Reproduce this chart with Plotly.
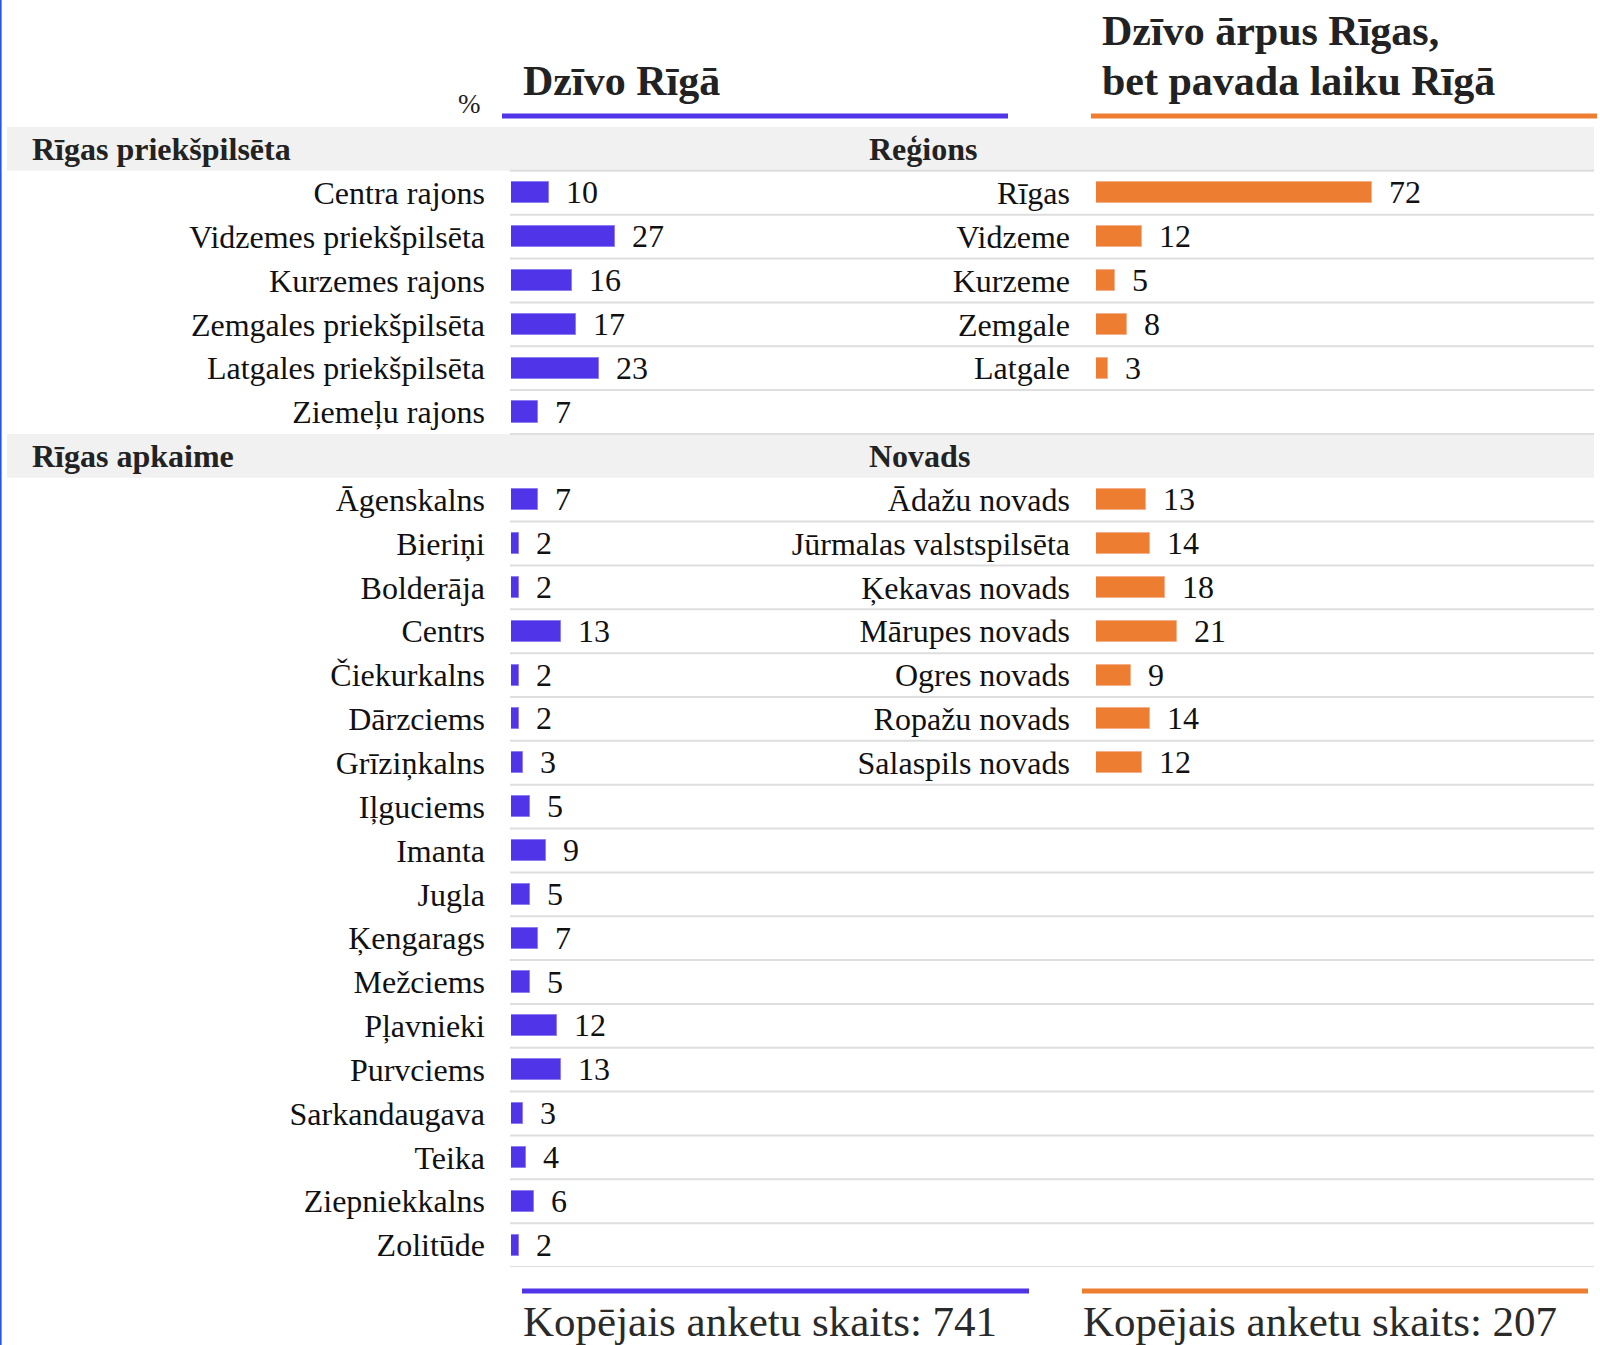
import plotly.graph_objects as go

# ---------------- data ----------------
left_header_1 = "Rīgas priekšpilsēta"
left_cats_1 = ["Centra rajons", "Vidzemes priekšpilsēta", "Kurzemes rajons",
               "Zemgales priekšpilsēta", "Latgales priekšpilsēta", "Ziemeļu rajons"]
left_vals_1 = [10, 27, 16, 17, 23, 7]

left_header_2 = "Rīgas apkaime"
left_cats_2 = ["Āgenskalns", "Bieriņi", "Bolderāja", "Centrs", "Čiekurkalns", "Dārzciems",
               "Grīziņkalns", "Iļguciems", "Imanta", "Jugla", "Ķengarags", "Mežciems",
               "Pļavnieki", "Purvciems", "Sarkandaugava", "Teika", "Ziepniekkalns", "Zolitūde"]
left_vals_2 = [7, 2, 2, 13, 2, 2, 3, 5, 9, 5, 7, 5, 12, 13, 3, 4, 6, 2]

right_header_1 = "Reģions"
right_cats_1 = ["Rīgas", "Vidzeme", "Kurzeme", "Zemgale", "Latgale"]
right_vals_1 = [72, 12, 5, 8, 3]

right_header_2 = "Novads"
right_cats_2 = ["Ādažu novads", "Jūrmalas valstspilsēta", "Ķekavas novads", "Mārupes novads",
                "Ogres novads", "Ropažu novads", "Salaspils novads"]
right_vals_2 = [13, 14, 18, 21, 9, 14, 12]

title_left = "Dzīvo Rīgā"
title_right_lines = ["Dzīvo ārpus Rīgas,", "bet pavada laiku Rīgā"]
unit_label = "%"
footer_left = "Kopējais anketu skaits: 741"
footer_right = "Kopējais anketu skaits: 207"

# ---------------- layout constants ----------------
W, H = 1600, 1345
TOP, BOTTOM = 127, 1267
PLOT_H = BOTTOM - TOP
PX_PER_UNIT = 3.84
LX0, LX1 = 511, 1000
RX0, RX1 = 1096, 1594
BLUE = "#5035E8"
ORANGE = "#ED7D31"
FONT = "Liberation Serif"
LBL = 32


def px(x):
    return x / W


def py(y):
    return 1 - (y - TOP) / PLOT_H


# row indices
h1 = 0
rows_l1 = list(range(1, 1 + len(left_cats_1)))
h2 = rows_l1[-1] + 1
rows_l2 = list(range(h2 + 1, h2 + 1 + len(left_cats_2)))
rows_r1 = list(range(1, 1 + len(right_cats_1)))
rows_r2 = list(range(h2 + 1, h2 + 1 + len(right_cats_2)))
n_rows = rows_l2[-1] + 1

fig = go.Figure()

fig.add_trace(go.Bar(
    y=rows_l1 + rows_l2, x=left_vals_1 + left_vals_2, orientation="h",
    width=0.48, marker=dict(color=BLUE, line=dict(color="#8E7DF0", width=1)),
    texttemplate="\u00a0\u2009%{x}", textposition="outside", constraintext="none",
    textfont=dict(family=FONT, size=LBL, color="#111"), cliponaxis=False,
    xaxis="x", yaxis="y", hoverinfo="skip", showlegend=False))

fig.add_trace(go.Bar(
    y=rows_r1 + rows_r2, x=right_vals_1 + right_vals_2, orientation="h",
    width=0.48, marker=dict(color=ORANGE, line=dict(color="#F4B08A", width=1)),
    texttemplate="\u00a0\u2009%{x}", textposition="outside", constraintext="none",
    textfont=dict(family=FONT, size=LBL, color="#111"), cliponaxis=False,
    xaxis="x2", yaxis="y2", hoverinfo="skip", showlegend=False))

shapes = []
# header bands
for r in (h1, h2):
    shapes.append(dict(type="rect", xref="paper", yref="y", x0=px(7), x1=px(1594),
                       y0=r - 0.5, y1=r + 0.5, fillcolor="#F1F1F1", line=dict(width=0),
                       layer="below"))
# separators
sep_rows = [0.5] + [r + 0.5 for r in rows_l1] + [r + 0.5 for r in rows_l2]
for s in sep_rows:
    shapes.append(dict(type="line", xref="paper", yref="y", x0=px(510), x1=px(1594),
                       y0=s, y1=s, line=dict(color="#DEDEDE", width=2), layer="below"))
# title / footer lines
shapes += [
    dict(type="line", xref="paper", yref="paper", x0=px(502), x1=px(1008),
         y0=py(116), y1=py(116), line=dict(color=BLUE, width=5)),
    dict(type="line", xref="paper", yref="paper", x0=px(1091), x1=px(1597),
         y0=py(116), y1=py(116), line=dict(color=ORANGE, width=5)),
    dict(type="line", xref="paper", yref="paper", x0=px(522), x1=px(1029),
         y0=py(1291), y1=py(1291), line=dict(color=BLUE, width=5)),
    dict(type="line", xref="paper", yref="paper", x0=px(1082), x1=px(1588),
         y0=py(1291), y1=py(1291), line=dict(color=ORANGE, width=5)),
    dict(type="rect", xref="paper", yref="paper", x0=0, x1=px(1.6),
         y0=py(H), y1=py(0), fillcolor="#2255EE", line=dict(width=0)),
]

annotations = []
for txt, r, x in [(left_header_1, h1, 30), (left_header_2, h2, 30),
                  (right_header_1, h1, 867), (right_header_2, h2, 867)]:
    annotations.append(dict(text=f"<b>{txt}</b>", xref="paper", yref="y", x=px(x), y=r,
                            xanchor="left", yanchor="middle", showarrow=False,
                            font=dict(family=FONT, size=LBL, color="#222")))
annotations += [
    dict(text=f"<b>{title_left}</b>", xref="paper", yref="paper", x=px(521), y=py(81),
         xanchor="left", yanchor="middle", showarrow=False,
         font=dict(family=FONT, size=42, color="#222")),
    dict(text=f"<b>{title_right_lines[0]}</b>", xref="paper", yref="paper", x=px(1100), y=py(31),
         xanchor="left", yanchor="middle", showarrow=False,
         font=dict(family=FONT, size=42, color="#222")),
    dict(text=f"<b>{title_right_lines[1]}</b>", xref="paper", yref="paper", x=px(1100), y=py(81),
         xanchor="left", yanchor="middle", showarrow=False,
         font=dict(family=FONT, size=42, color="#222")),
    dict(text=unit_label, xref="paper", yref="paper", x=px(456), y=py(104),
         xanchor="left", yanchor="middle", showarrow=False,
         font=dict(family=FONT, size=27, color="#222")),
    dict(text=footer_left, xref="paper", yref="paper", x=px(521), y=py(1321),
         xanchor="left", yanchor="middle", showarrow=False,
         font=dict(family=FONT, size=43, color="#2a2a2a")),
    dict(text=footer_right, xref="paper", yref="paper", x=px(1081), y=py(1321),
         xanchor="left", yanchor="middle", showarrow=False,
         font=dict(family=FONT, size=43, color="#2a2a2a")),
]

yr = [n_rows - 0.5, -0.5]
tickfont = dict(family=FONT, size=LBL, color="#111")

fig.update_layout(
    width=W, height=H,
    margin=dict(l=0, r=0, t=TOP, b=H - BOTTOM, pad=0),
    paper_bgcolor="white", plot_bgcolor="rgba(0,0,0,0)",
    font=dict(family=FONT),
    bargap=0,
    xaxis=dict(domain=[px(LX0), px(LX1)], range=[0, (LX1 - LX0) / PX_PER_UNIT],
               visible=False, fixedrange=True),
    xaxis2=dict(domain=[px(RX0), px(RX1)], range=[0, (RX1 - RX0) / PX_PER_UNIT],
                visible=False, fixedrange=True, anchor="y2"),
    yaxis=dict(range=yr, anchor="x", tickvals=rows_l1 + rows_l2,
               ticktext=left_cats_1 + left_cats_2, tickfont=tickfont,
               showgrid=False, zeroline=False, showline=False, ticks="",
               ticklabelstandoff=25, fixedrange=True),
    yaxis2=dict(range=yr, anchor="x2", overlaying="y", side="left",
                tickvals=rows_r1 + rows_r2, ticktext=right_cats_1 + right_cats_2,
                tickfont=tickfont, showgrid=False, zeroline=False, showline=False,
                ticks="", ticklabelstandoff=25, fixedrange=True),
    shapes=shapes, annotations=annotations,
)

fig.write_html("out.html", config={"displayModeBar": False},
               post_script="document.body.style.margin='0';document.body.style.overflow='hidden';")
